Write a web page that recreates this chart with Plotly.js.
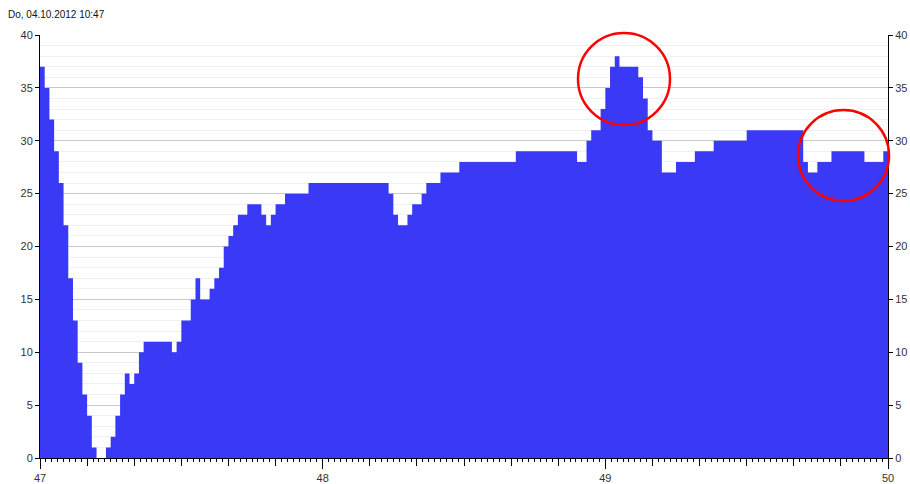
<!DOCTYPE html>
<html>
<head>
<meta charset="utf-8">
<script src="https://cdn.plot.ly/plotly-3.0.1.min.js"></script>
<style>
  html, body { margin: 0; padding: 0; background: #ffffff; }
  #chart { width: 910px; height: 484px; }
</style>
</head>
<body>
<div id="chart"></div>
<script>
// x axis: hours, one value per minute from 47 to 50
const startHour = 47;
const endHour = 50;
const stepsPerHour = 60;

const values = [
  37, 35, 32, 29, 26, 22, 17, 13, 9, 6,
  4, 1, 0, 0, 1, 2, 4, 6, 8, 7,
  8, 10, 11, 11, 11, 11, 11, 11, 10, 11,
  13, 13, 15, 17, 15, 15, 16, 17, 18, 20,
  21, 22, 23, 23, 24, 24, 24, 23, 22, 23,
  24, 24, 25, 25, 25, 25, 25, 26, 26, 26,
  26, 26, 26, 26, 26, 26, 26, 26, 26, 26,
  26, 26, 26, 26, 25, 23, 22, 22, 23, 24,
  24, 25, 26, 26, 26, 27, 27, 27, 27, 28,
  28, 28, 28, 28, 28, 28, 28, 28, 28, 28,
  28, 29, 29, 29, 29, 29, 29, 29, 29, 29,
  29, 29, 29, 29, 28, 28, 30, 31, 31, 33,
  35, 37, 38, 37, 37, 37, 37, 36, 34, 31,
  30, 30, 27, 27, 27, 28, 28, 28, 28, 29,
  29, 29, 29, 30, 30, 30, 30, 30, 30, 30,
  31, 31, 31, 31, 31, 31, 31, 31, 31, 31,
  31, 31, 28, 27, 27, 28, 28, 28, 29, 29,
  29, 29, 29, 29, 29, 28, 28, 28, 28, 29
];

const xTickVals = [47, 48, 49, 50];
const xTickText = ['47', '48', '49', '50'];
const yTickVals = [0, 5, 10, 15, 20, 25, 30, 35, 40];
const yTickText = ['0', '5', '10', '15', '20', '25', '30', '35', '40'];

const titleText = 'Do, 04.10.2012 10:47';

// time grid (minutes) and a closing point at the right edge
const xs = values.map((v, i) => startHour + i / stepsPerHour);
const ys = values.slice();
xs.push(endHour);
ys.push(values[values.length - 1]);

const fontFamily = '"Liberation Sans", Arial, sans-serif';
const tickFont = { family: fontFamily, size: 11, color: '#333333' };

const traces = [
  {
    type: 'scatter',
    x: xs,
    y: ys,
    mode: 'lines',
    line: { shape: 'hv', width: 0, color: '#3a3af6' },
    fill: 'tozeroy',
    fillcolor: '#3a3af6',
    hoverinfo: 'x+y',
    showlegend: false
  },
  {
    type: 'scatter',
    x: [startHour, endHour],
    y: [0, 40],
    xaxis: 'x2',
    yaxis: 'y2',
    mode: 'markers',
    marker: { opacity: 0, size: 1 },
    hoverinfo: 'skip',
    showlegend: false
  }
];

const layout = {
  width: 910,
  height: 484,
  margin: { l: 40, r: 22, t: 35, b: 26, pad: 0 },
  paper_bgcolor: '#ffffff',
  plot_bgcolor: '#ffffff',
  showlegend: false,
  title: {
    text: titleText,
    x: 8 / 910,
    xref: 'container',
    xanchor: 'left',
    y: 1 - 14 / 484,
    yref: 'container',
    yanchor: 'middle',
    font: { family: fontFamily, size: 10, color: '#111111' }
  },
  xaxis: {
    range: [startHour, endHour],
    tickmode: 'array',
    tickvals: xTickVals,
    ticktext: xTickText,
    ticks: 'outside',
    ticklen: 10,
    tickwidth: 1,
    tickcolor: '#000000',
    showline: true,
    linecolor: '#000000',
    linewidth: 1,
    showgrid: false,
    zeroline: false,
    tickfont: tickFont,
    fixedrange: true,
    minor: {
      dtick: 1 / 48,
      ticks: 'outside',
      ticklen: 3,
      tickcolor: '#000000',
      tickwidth: 1,
      showgrid: false
    }
  },
  xaxis2: {
    overlaying: 'x',
    matches: 'x',
    side: 'bottom',
    range: [startHour, endHour],
    dtick: 1 / 6,
    tick0: startHour,
    ticks: 'outside',
    ticklen: 7,
    tickwidth: 1,
    tickcolor: '#000000',
    showticklabels: false,
    showline: false,
    showgrid: false,
    zeroline: false,
    fixedrange: true
  },
  yaxis: {
    range: [0, 40],
    tickmode: 'array',
    tickvals: yTickVals,
    ticktext: yTickText,
    ticks: 'outside',
    ticklen: 4,
    tickwidth: 1,
    tickcolor: '#000000',
    showline: true,
    linecolor: '#000000',
    linewidth: 1,
    showgrid: true,
    gridcolor: '#c9c9c9',
    gridwidth: 1,
    zeroline: false,
    tickfont: tickFont,
    fixedrange: true,
    layer: 'below traces',
    minor: {
      dtick: 1,
      ticks: '',
      showgrid: true,
      gridcolor: '#f0f0f0',
      gridwidth: 1
    }
  },
  yaxis2: {
    overlaying: 'y',
    side: 'right',
    range: [0, 40],
    tickmode: 'array',
    tickvals: yTickVals,
    ticktext: yTickText,
    ticks: 'outside',
    ticklen: 4,
    tickwidth: 1,
    tickcolor: '#000000',
    showline: true,
    linecolor: '#000000',
    linewidth: 1,
    showgrid: false,
    zeroline: false,
    tickfont: tickFont,
    fixedrange: true
  },
  shapes: [
    {
      type: 'circle',
      xref: 'paper', yref: 'paper',
      x0: 538 / 848, x1: 630 / 848,
      y0: 333 / 423, y1: 425 / 423,
      line: { color: '#ff0000', width: 2.5 },
      fillcolor: 'rgba(0,0,0,0)'
    },
    {
      type: 'circle',
      xref: 'paper', yref: 'paper',
      x0: 758 / 848, x1: 849 / 848,
      y0: 257 / 423, y1: 348 / 423,
      line: { color: '#ff0000', width: 2.5 },
      fillcolor: 'rgba(0,0,0,0)'
    }
  ]
};

Plotly.newPlot('chart', traces, layout, { displayModeBar: false, staticPlot: true });
</script>
</body>
</html>
